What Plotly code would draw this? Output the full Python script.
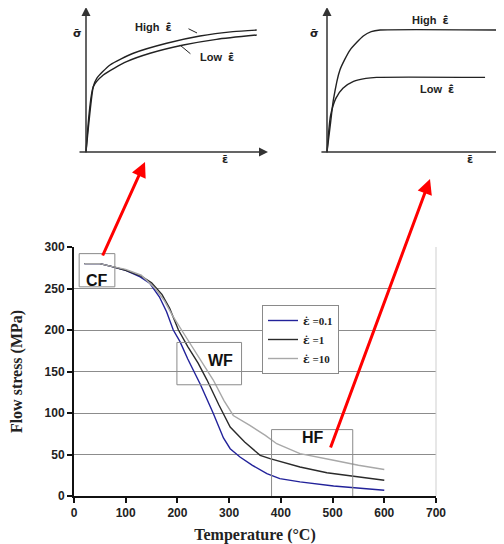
import plotly.graph_objects as go

# ---------------- main chart data ----------------
temp_01 = [20, 50, 70, 100, 128, 147, 165, 179, 192, 205, 220, 244, 269, 289, 302, 321, 345, 373, 398, 437, 502, 553, 600]
flow_01 = [280, 280, 277, 272, 264, 256, 240, 222, 200, 186, 165, 135, 100, 70, 57, 47, 37, 27, 21, 17, 12, 9, 7]
temp_1 = [20, 50, 70, 100, 130, 150, 170, 185, 202, 220, 240, 257, 280, 302, 330, 360, 379, 410, 437, 489, 540, 600]
flow_1 = [280, 280, 277, 272, 265, 257, 243, 226, 200, 180, 160, 140, 110, 83, 65, 49, 45, 40, 35, 28, 24, 19]
temp_10 = [20, 50, 70, 100, 130, 157, 175, 190, 208, 230, 250, 269, 290, 308, 340, 370, 392, 437, 502, 550, 600]
flow_10 = [280, 280, 277, 273, 266, 250, 235, 218, 200, 178, 158, 140, 115, 97, 85, 73, 63, 51, 43, 37, 32]
strain_rates = ["0.1", "1", "10"]
x_ticks = [0, 100, 200, 300, 400, 500, 600, 700]
y_ticks = [0, 50, 100, 150, 200, 250, 300]

# regions: label, T0, T1, s0, s1, label T, label s
region_labels = ["CF", "WF", "HF"]
region_t0 = [10, 199, 382]
region_t1 = [79, 324, 539]
region_s0 = [252, 134, -6]
region_s1 = [292, 185, 80]
region_lab_t = [44, 284, 462]
region_lab_s = [260, 163, 71]

# ---------------- schematic insets (normalised strain / stress) ----------------
cf_high_x = [0, 0.04, 0.059, 0.132, 0.26, 0.443, 0.626, 0.808, 0.938]
cf_high_y = [0, 0.45, 0.508, 0.600, 0.681, 0.750, 0.800, 0.830, 0.841]
cf_low_x = [0, 0.04, 0.095, 0.223, 0.352, 0.535, 0.717, 0.938]
cf_low_y = [0, 0.45, 0.531, 0.623, 0.681, 0.738, 0.777, 0.807]

hf_high_x = [0, 0.02, 0.036, 0.073, 0.13, 0.205, 0.25, 0.30, 1.0]
hf_high_y = [0, 0.20, 0.359, 0.566, 0.703, 0.800, 0.830, 0.841, 0.841]
hf_low_x = [0, 0.02, 0.05, 0.09, 0.15, 0.22, 0.28, 0.893]
hf_low_y = [0, 0.25, 0.37, 0.44, 0.487, 0.508, 0.515, 0.515]

# page has an 8px body margin: the figure occupies window pixels 8..504 / 8..544
OFF = 8
W, H = 504 - OFF, 544 - OFF
def px_x(p):
    return (p - OFF) / W
def px_y(p):
    return 1 - (p - OFF) / H

def inset_axes(p0, p1, origin, scale, vertical=False):
    """domain & range for an inset axis from window pixel extents"""
    if vertical:
        dom = [px_y(p1), px_y(p0)]
        rng = [(origin - p1) / scale, (origin - p0) / scale]
    else:
        dom = [px_x(p0), px_x(p1)]
        rng = [(p0 - origin) / scale, (p1 - origin) / scale]
    return dom, rng

x2_dom, x2_rng = inset_axes(66, 276, 86, 182)
y2_dom, y2_rng = inset_axes(8, 168, 152, 145, vertical=True)
x3_dom, x3_rng = inset_axes(305, 504, 327, 177)
y3_dom, y3_rng = inset_axes(8, 168, 152, 145, vertical=True)

EDOT = "<span style='font-family:DejaVu Serif'>ε̇</span>"
EBARDOT = "<span style='font-family:DejaVu Sans'>ε̄̇</span>"
EBAR = "<span style='font-family:DejaVu Sans'>ε̄</span>"
SBAR = "<span style='font-family:DejaVu Sans'>σ̄</span>"

fig = go.Figure()

colors = ["#22229a", "#2a2a2a", "#a8a8a8"]
for xs, ys, r, c in zip([temp_01, temp_1, temp_10], [flow_01, flow_1, flow_10], strain_rates, colors):
    fig.add_trace(go.Scatter(x=xs, y=ys, mode="lines", name=EDOT + " =" + r,
                             line=dict(color=c, width=1.4), xaxis="x", yaxis="y"))

# inset curves
for xs, ys in [(cf_high_x, cf_high_y), (cf_low_x, cf_low_y)]:
    fig.add_trace(go.Scatter(x=xs, y=ys, mode="lines", showlegend=False,
                             line=dict(color="#222", width=1.4, shape="spline", smoothing=0.6),
                             xaxis="x2", yaxis="y2"))
for xs, ys in [(hf_high_x, hf_high_y), (hf_low_x, hf_low_y)]:
    fig.add_trace(go.Scatter(x=xs, y=ys, mode="lines", showlegend=False,
                             line=dict(color="#222", width=1.4, shape="spline", smoothing=0.6),
                             xaxis="x3", yaxis="y3"))

shapes = []
annotations = []
tick_font = dict(family="Liberation Sans, Arial", size=12, color="#222", weight="bold")
title_font = dict(family="Liberation Serif, Times New Roman", size=16, color="#222", weight="bold")

for lab, t0, t1, s0, s1, lt, ls in zip(region_labels, region_t0, region_t1, region_s0, region_s1,
                                      region_lab_t, region_lab_s):
    shapes.append(dict(type="rect", xref="x", yref="y", x0=t0, x1=t1, y0=s0, y1=s1,
                       line=dict(color="#8a8a8a", width=1)))
    annotations.append(dict(xref="x", yref="y", x=lt, y=ls, text=lab, showarrow=False,
                            font=dict(family="Liberation Sans, Arial", size=16, color="#111", weight="bold")))

# right border of plot area
shapes.append(dict(type="line", xref="x domain", yref="y domain", x0=1, x1=1, y0=0, y1=1,
                   line=dict(color="#cfcfcf", width=1)))

# inset axes arrows
ax_line = "#333"
for xr, yr, xmin, xmax, arrow_x in [("x2", "y2", -0.044, 1.0, True), ("x3", "y3", -0.04, 1.0, False)]:
    annotations.append(dict(xref=xr, yref=yr, axref=xr, ayref=yr, x=0, y=1.0, ax=0, ay=-0.014,
                            showarrow=True, arrowhead=2, arrowsize=1.2, arrowwidth=1.5,
                            arrowcolor=ax_line, text=""))
    annotations.append(dict(xref=xr, yref=yr, axref=xr, ayref=yr, x=xmax, y=0, ax=xmin, ay=0,
                            showarrow=True, arrowhead=2 if arrow_x else 0, arrowsize=1.2,
                            arrowwidth=1.5, arrowcolor=ax_line, text=""))

lab_font = dict(family="Liberation Sans, Arial", size=11, color="#222", weight="bold")
sym_font = dict(family="DejaVu Sans", size=11, color="#222", weight="bold")
# left inset labels
annotations += [
    dict(xref="x2", yref="y2", x=-0.049, y=0.814, text=SBAR, showarrow=False, font=sym_font),
    dict(xref="x2", yref="y2", x=0.764, y=-0.05, text=EBAR, showarrow=False, font=sym_font),
    dict(xref="x2", yref="y2", x=0.37, y=0.86, text="High  " + EBARDOT, showarrow=False, font=lab_font),
    dict(xref="x2", yref="y2", x=0.72, y=0.655, text="Low  " + EBARDOT, showarrow=False, font=lab_font),
    dict(xref="x2", yref="y2", axref="x2", ayref="y2", x=0.61, y=0.821, ax=0.555, ay=0.855,
         showarrow=True, arrowhead=0, arrowwidth=1, arrowcolor="#222", text=""),
    dict(xref="x2", yref="y2", axref="x2", ayref="y2", x=0.516, y=0.738, ax=0.582, ay=0.669,
         showarrow=True, arrowhead=0, arrowwidth=1, arrowcolor="#222", text=""),
    # right inset labels
    dict(xref="x3", yref="y3", x=-0.068, y=0.814, text=SBAR, showarrow=False, font=sym_font),
    dict(xref="x3", yref="y3", x=0.808, y=-0.05, text=EBAR, showarrow=False, font=sym_font),
    dict(xref="x3", yref="y3", x=0.582, y=0.91, text="High  " + EBARDOT, showarrow=False, font=lab_font),
    dict(xref="x3", yref="y3", x=0.621, y=0.428, text="Low  " + EBARDOT, showarrow=False, font=lab_font),
]

# red arrows linking regions to insets
annotations += [
    dict(xref="paper", yref="paper", x=px_x(145), y=px_y(162), ax=-43, ay=95,
         showarrow=True, arrowhead=2, arrowsize=1, arrowwidth=3, arrowcolor="#ff0000", text=""),
    dict(xref="paper", yref="paper", x=px_x(430), y=px_y(179), ax=-100, ay=270,
         showarrow=True, arrowhead=2, arrowsize=1, arrowwidth=3, arrowcolor="#ff0000", text=""),
]

fig.update_layout(
    width=W, height=H,
    margin=dict(l=0, r=0, t=0, b=0),
    paper_bgcolor="white", plot_bgcolor="white",
    showlegend=True,
    legend=dict(x=px_x(262), y=px_y(305), xanchor="left", yanchor="top",
                bordercolor="#8a8a8a", borderwidth=1, bgcolor="white",
                font=dict(family="Liberation Serif, Times New Roman", size=11, color="#222", weight="bold"),
                itemwidth=30, tracegroupgap=0),
    xaxis=dict(domain=[px_x(74), px_x(436)], range=[0, 700], tickvals=x_ticks,
               showgrid=False, zeroline=False, showline=True, linecolor="#111", linewidth=2,
               ticks="outside", ticklen=5, tickcolor="#111", tickwidth=1.5,
               tickfont=tick_font, automargin=False,
               title=dict(text="Temperature (°C)", font=title_font, standoff=12)),
    yaxis=dict(domain=[px_y(496), px_y(247)], range=[0, 300], tickvals=y_ticks,
               showgrid=True, gridcolor="#8c8c8c", gridwidth=1, zeroline=False,
               showline=True, linecolor="#111", linewidth=2,
               ticks="outside", ticklen=5, tickcolor="#111", tickwidth=1.5,
               tickfont=tick_font, automargin=False,
               title=dict(text="Flow stress (MPa)", font=title_font, standoff=18)),
    xaxis2=dict(domain=x2_dom, range=x2_rng, visible=False, anchor="y2"),
    yaxis2=dict(domain=y2_dom, range=y2_rng, visible=False, anchor="x2"),
    xaxis3=dict(domain=x3_dom, range=x3_rng, visible=False, anchor="y3"),
    yaxis3=dict(domain=y3_dom, range=y3_rng, visible=False, anchor="x3"),
    shapes=shapes,
    annotations=annotations,
)

fig.write_html("out.html")
